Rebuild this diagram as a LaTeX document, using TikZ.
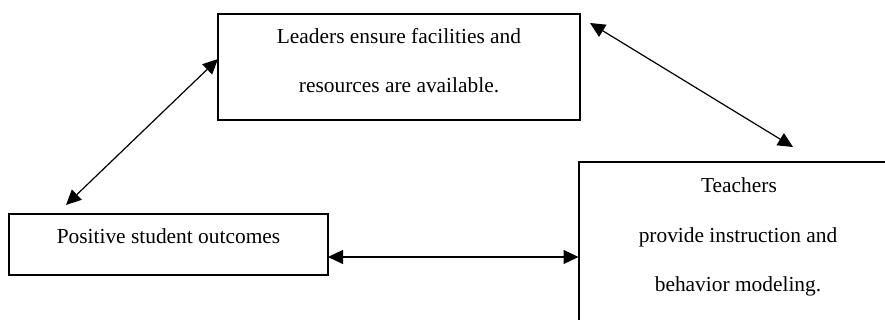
\documentclass[tikz,border=0pt]{standalone}
\usepackage{fontspec}
\setmainfont{Liberation Serif}
\usetikzlibrary{arrows.meta}
\begin{document}
\begin{tikzpicture}[x=0.5pt,y=0.5pt,
  box/.style={draw, line width=0.8pt, rectangle, inner sep=0pt},
  txt/.style={anchor=base, inner sep=0pt, font=\fontsize{10.7pt}{12pt}\selectfont},
  link/.style={line width=0.6pt, {Triangle[length=7.5pt,width=7pt]}-{Triangle[length=7.5pt,width=7pt]}}]
\useasboundingbox (0,0) rectangle (885,-320);
\clip (0,0) rectangle (885,-320);
% boxes
\node[box, minimum width=181pt, minimum height=53pt] (lead) at (399,-67) {};
\node[box, minimum width=159.5pt, minimum height=30.5pt] (pos) at (168.5,-244.5) {};
\node[box, minimum width=159pt, minimum height=89pt] (teach) at (738,-251) {};
% texts
\node[txt] (lead1) at (399,-44) {Leaders ensure facilities and};
\node[txt] (lead2) at (399,-93) {resources are available.};
\node[txt] (pos1) at (168.5,-244) {Positive student outcomes};
\node[txt] (teach1) at (739,-193) {Teachers};
\node[txt] (teach2) at (738,-243) {provide instruction and};
\node[txt] (teach3) at (738,-292) {behavior modeling.};
% connector ends
\coordinate (a1s) at (66,-205);
\coordinate (a1e) at (218,-59);
\coordinate (a2s) at (590,-23);
\coordinate (a2e) at (793,-147);
\coordinate (a3s) at (328,-257);
\coordinate (a3e) at (578.5,-257);
\draw[link] (a1s) -- (a1e);
\draw[link] (a2s) -- (a2e);
\draw[link] (a3s) -- (a3e);
\end{tikzpicture}
\end{document}
